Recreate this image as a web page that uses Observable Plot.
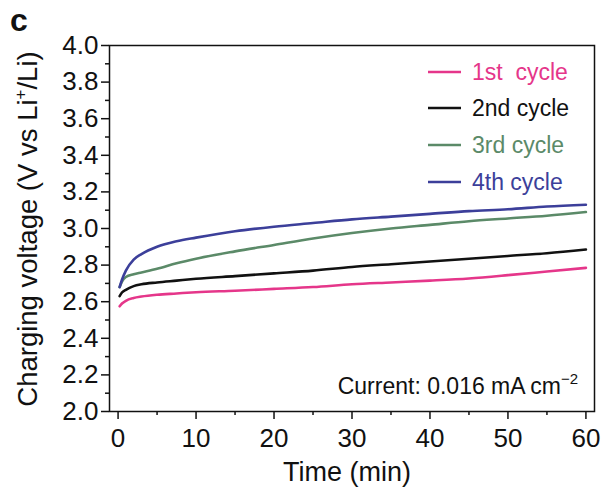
<!DOCTYPE html>
<html>
<head>
<meta charset="utf-8">
<script src="https://cdn.jsdelivr.net/npm/d3@7"></script>
<script src="https://cdn.jsdelivr.net/npm/@observablehq/plot@0.6"></script>
<style>
  html, body { margin: 0; padding: 0; background: #fff; }
  #chart { position: relative; width: 605px; height: 494px; }
</style>
</head>
<body>
<div id="chart"></div>
<script>
// ---- data ----
const times = [0.2, 0.5, 1, 2, 3, 5, 7.5, 10, 15, 20, 25, 30, 35, 40, 45, 50, 55, 60];
const cycle1 = [2.575, 2.59, 2.605, 2.62, 2.628, 2.638, 2.645, 2.652, 2.66, 2.67, 2.68, 2.695, 2.705, 2.715, 2.727, 2.745, 2.765, 2.785];
const cycle2 = [2.63, 2.65, 2.665, 2.685, 2.695, 2.705, 2.715, 2.725, 2.74, 2.755, 2.77, 2.79, 2.805, 2.82, 2.835, 2.85, 2.865, 2.885];
const cycle3 = [2.68, 2.71, 2.735, 2.75, 2.76, 2.78, 2.81, 2.835, 2.875, 2.91, 2.945, 2.975, 3.0, 3.02, 3.04, 3.055, 3.07, 3.09];
const cycle4 = [2.68, 2.72, 2.77, 2.83, 2.86, 2.9, 2.93, 2.95, 2.985, 3.01, 3.03, 3.05, 3.065, 3.08, 3.095, 3.105, 3.12, 3.13];
const seriesNames = ["1st  cycle", "2nd cycle", "3rd cycle", "4th cycle"];
const seriesColors = ["#e5368a", "#111111", "#5b8a68", "#3c3f9a"];
const yTicks = [2.0, 2.2, 2.4, 2.6, 2.8, 3.0, 3.2, 3.4, 3.6, 3.8, 4.0];
const yMinor = [2.1, 2.3, 2.5, 2.7, 2.9, 3.1, 3.3, 3.5, 3.7, 3.9];
const xTicks = [0, 10, 20, 30, 40, 50, 60];
const xMinor = [5, 15, 25, 35, 45, 55];

const allSeries = [cycle1, cycle2, cycle3, cycle4];
const rows = [];
allSeries.forEach((vals, i) => vals.forEach((v, j) => rows.push({t: times[j], v, s: seriesNames[i]})));

const FONT = "'Liberation Sans', Arial, Helvetica, sans-serif";

const plot = Plot.plot({
  width: 605,
  height: 494,
  marginLeft: 109,
  marginRight: 11,
  marginTop: 45,
  marginBottom: 83,
  style: {fontFamily: FONT, fontSize: "26px", color: "#111", background: "#fff"},
  x: {domain: [-1.1, 61.1]},
  y: {domain: [2.0, 4.0]},
  color: {domain: seriesNames, range: seriesColors},
  marks: [
    Plot.frame({stroke: "#111", strokeWidth: 1.5}),
    Plot.axisY(yTicks, {tickSize: 8, tickPadding: 3, tickFormat: d3.format(".1f"), label: null, strokeWidth: 1.5}),
    Plot.axisY(yMinor, {tickSize: 4, text: null, label: null, strokeWidth: 1.5}),
    Plot.axisX(xTicks, {tickSize: 8, tickPadding: 9, label: null, strokeWidth: 1.5}),
    Plot.axisX(xMinor, {tickSize: 4, text: null, label: null, strokeWidth: 1.5}),
    Plot.line(rows, {x: "t", y: "v", z: "s", stroke: "s", strokeWidth: 2.6, curve: "monotone-x"})
  ]
});

document.getElementById("chart").appendChild(plot);

const svg = d3.select(plot);
// panel letter
svg.append("text").attr("x", 10).attr("y", 31).attr("text-anchor", "start").attr("font-family", FONT)
  .attr("font-size", 32).attr("font-weight", "bold").attr("fill", "#111").text("c");

// axis titles
svg.append("text").attr("x", 347).attr("y", 481).attr("text-anchor", "middle")
  .attr("font-family", FONT).attr("font-size", 27).attr("fill", "#111").text("Time (min)");

const yl = svg.append("text").attr("transform", "translate(37,229) rotate(-90)")
  .attr("text-anchor", "middle").attr("font-family", FONT).attr("font-size", 27.5).attr("fill", "#111");
yl.append("tspan").text("Charging voltage (V vs Li");
yl.append("tspan").attr("font-size", 17).attr("dy", -11).text("+");
yl.append("tspan").attr("dy", 11).text("/Li)");

// legend
const legY = [72, 108, 145, 182];
seriesNames.forEach((n, i) => {
  svg.append("line").attr("x1", 428).attr("x2", 461).attr("y1", legY[i]).attr("y2", legY[i])
    .attr("stroke", seriesColors[i]).attr("stroke-width", 2.6);
  svg.append("text").attr("x", 472).attr("y", legY[i]).attr("dy", "0.35em").attr("text-anchor", "start")
    .attr("font-family", FONT).attr("font-size", 23).attr("fill", seriesColors[i])
    .style("white-space", "pre").text(n);
});

// current annotation
const cur = svg.append("text").attr("x", 578).attr("y", 394).attr("text-anchor", "end")
  .attr("font-family", FONT).attr("font-size", 23).attr("fill", "#111");
cur.append("tspan").text("Current: 0.016 mA\u2009cm");
cur.append("tspan").attr("font-size", 15).attr("dy", -10).text("\u22122");
</script>
</body>
</html>
